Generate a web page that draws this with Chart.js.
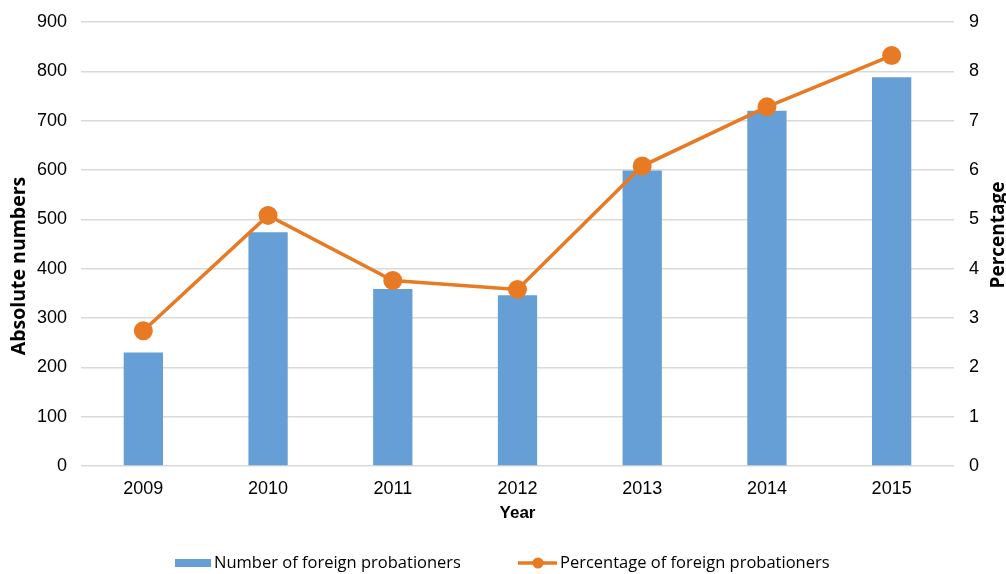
<!DOCTYPE html>
<html>
<head>
<meta charset="utf-8">
<script src="https://cdn.jsdelivr.net/npm/chart.js@4/dist/chart.umd.min.js"></script>
<style>
  html, body { margin: 0; padding: 0; background: #fff; }
  #wrap { width: 1006px; height: 574px; position: relative; }
</style>
</head>
<body>
<div id="wrap"><canvas id="chart"></canvas></div>
<script>
const years = ['2009', '2010', '2011', '2012', '2013', '2014', '2015'];
const foreignProbationers = [230, 474, 359, 346, 599, 720, 788];
const foreignPercentage = [2.74, 5.08, 3.76, 3.58, 6.08, 7.28, 8.32];
const leftTicks = [0, 100, 200, 300, 400, 500, 600, 700, 800, 900];
const rightTicks = [0, 1, 2, 3, 4, 5, 6, 7, 8, 9];

const barColor = '#659fd5';
const lineColor = '#e87a24';

// legend and the two side titles are drawn by hand:
// the line entry needs its dot, and both titles read bottom-to-top
const extras = {
  id: 'extras',
  afterDraw(chart) {
    const ctx = chart.ctx;
    const y = 563;
    ctx.save();
    ctx.font = '16.5px "Open Sans"';
    ctx.textBaseline = 'middle';

    ctx.fillStyle = barColor;
    ctx.fillRect(175, 559, 36, 8);
    ctx.fillStyle = '#000';
    ctx.fillText(chart.data.datasets[0].label, 214, y);

    ctx.strokeStyle = lineColor;
    ctx.lineWidth = 3.5;
    ctx.beginPath();
    ctx.moveTo(518, y);
    ctx.lineTo(557, y);
    ctx.stroke();
    ctx.fillStyle = lineColor;
    ctx.beginPath();
    ctx.arc(538, y, 5.5, 0, Math.PI * 2);
    ctx.fill();
    ctx.fillStyle = '#000';
    ctx.fillText(chart.data.datasets[1].label, 560, y);

    ctx.textAlign = 'center';
    ctx.save();
    ctx.translate(19, 266);
    ctx.rotate(-Math.PI / 2);
    ctx.font = 'bold 19.5px "Open Sans"';
    ctx.fillText('Absolute numbers', 0, 0);
    ctx.restore();

    ctx.save();
    ctx.translate(999, 235);
    ctx.rotate(-Math.PI / 2);
    ctx.font = 'bold 19px "Open Sans"';
    ctx.fillText('Percentage', 0, 0);
    ctx.restore();
    ctx.restore();
  }
};

// fixed axis sizes; drop the extra top/bottom room the tick padding asks for
const fitY = (w) => (scale) => {
  scale.width = w;
  scale.paddingTop = 0;
  scale.paddingBottom = 0;
};

new Chart(document.getElementById('chart'), {
  type: 'bar',
  data: {
    labels: years,
    datasets: [
      {
        type: 'bar',
        label: 'Number of foreign probationers',
        data: foreignProbationers,
        backgroundColor: barColor,
        yAxisID: 'y',
        categoryPercentage: 1,
        barPercentage: 0.315,
        order: 2
      },
      {
        type: 'line',
        label: 'Percentage of foreign probationers',
        data: foreignPercentage,
        borderColor: lineColor,
        backgroundColor: lineColor,
        borderWidth: 3.5,
        pointRadius: 9.5,
        pointHoverRadius: 9.5,
        pointBackgroundColor: lineColor,
        pointBorderWidth: 0,
        tension: 0,
        yAxisID: 'y1',
        order: 1
      }
    ]
  },
  options: {
    responsive: true,
    maintainAspectRatio: false,
    animation: false,
    layout: { padding: { top: 22, bottom: 46, left: 0, right: 0 } },
    plugins: {
      legend: { display: false },
      tooltip: { enabled: false }
    },
    scales: {
      x: {
        grid: { display: false, drawTicks: false },
        border: { display: false },
        ticks: { color: '#000', font: { family: 'Liberation Sans', size: 18 }, padding: 12 },
        title: {
          display: true, text: 'Year', color: '#000',
          font: { family: 'Liberation Sans', size: 17, weight: 'bold' }, padding: { top: 8 }
        },
        afterFit(scale) { scale.height = 62; }
      },
      y: {
        position: 'left',
        min: 0, max: 900,
        afterBuildTicks(scale) { scale.ticks = leftTicks.map(v => ({ value: v })); },
        grid: { color: '#d9d9d9', lineWidth: 1.5, drawTicks: false },
        border: { display: false },
        ticks: { color: '#000', font: { family: 'Liberation Sans', size: 18 }, padding: 14 },
        afterFit: fitY(81)
      },
      y1: {
        position: 'right',
        min: 0, max: 9,
        afterBuildTicks(scale) { scale.ticks = rightTicks.map(v => ({ value: v })); },
        grid: { display: false, drawTicks: false },
        border: { display: false },
        ticks: { color: '#000', font: { family: 'Liberation Sans', size: 18 }, padding: 15 },
        afterFit: fitY(52)
      }
    }
  },
  plugins: [extras]
});
</script>
</body>
</html>
